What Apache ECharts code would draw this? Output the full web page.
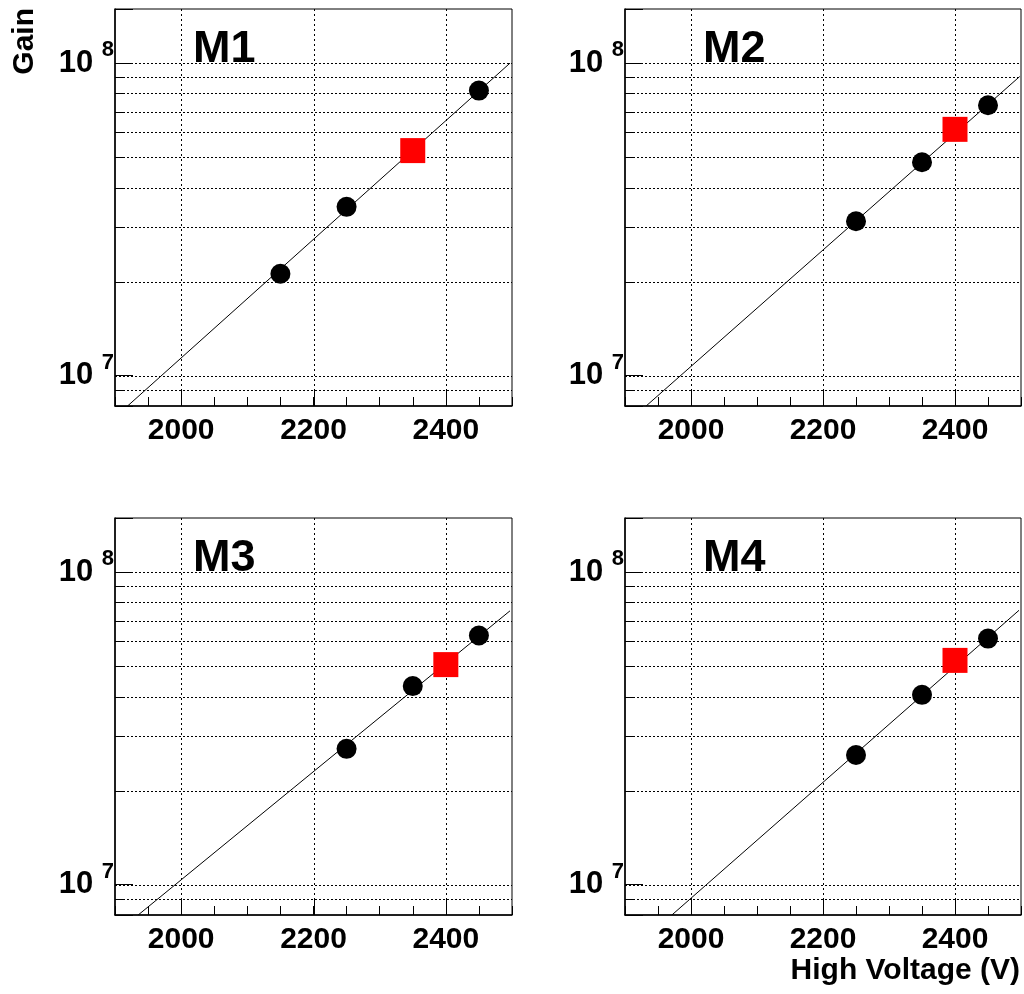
<!DOCTYPE html>
<html>
<head>
<meta charset="utf-8">
<script src="https://cdn.jsdelivr.net/npm/echarts@6/dist/echarts.min.js"></script>
<style>
  html, body { margin: 0; padding: 0; background: #ffffff; }
  #chart { width: 1024px; height: 994px; }
</style>
</head>
<body>
<div id="chart"></div>
<script>
// Module names, one per pad
const moduleNames = ['M1', 'M2', 'M3', 'M4'];

// Measured gain at each high-voltage setting (V, gain)
const m1Points = [[2150, 2.12e7], [2250, 3.47e7], [2450, 8.17e7]];
const m2Points = [[2250, 3.12e7], [2350, 4.82e7], [2450, 7.33e7]];
const m3Points = [[2250, 2.72e7], [2350, 4.32e7], [2450, 6.27e7]];
const m4Points = [[2250, 2.60e7], [2350, 4.05e7], [2450, 6.13e7]];

// Chosen operating point for each module
const m1Operating = [[2350, 5.25e7]];
const m2Operating = [[2400, 6.14e7]];
const m3Operating = [[2400, 5.06e7]];
const m4Operating = [[2400, 5.22e7]];

// Exponential fit, given by its two visible end points (V, gain)
const m1Fit = [[1919, 8.0e6], [2497, 1.0e8]];
const m2Fit = [[1932, 8.0e6], [2498, 9.06e7]];
const m3Fit = [[1935, 8.0e6], [2497, 7.52e7]];
const m4Fit = [[1971, 8.0e6], [2497, 7.55e7]];

// Axis ranges and grid values
const voltageRange = [1900, 2500];
const gainRange = [8.0e6, 1.49e8];
const voltageGridLines = [2000, 2200, 2400];
const gainGridLines = [9e6, 1e7, 2e7, 3e7, 4e7, 5e7, 6e7, 7e7, 8e7, 9e7, 1e8];
const gainMinorTicks = [9e6, 2e7, 3e7, 4e7, 5e7, 6e7, 7e7, 8e7, 9e7];

const allPoints = [m1Points, m2Points, m3Points, m4Points];
const allOperating = [m1Operating, m2Operating, m3Operating, m4Operating];
const allFits = [m1Fit, m2Fit, m3Fit, m4Fit];

// Pad layout (pixels)
const FONT = "'Liberation Sans', Arial, Helvetica, sans-serif";
const PAD_W = 397, PAD_H = 397;
const pads = [
  { left: 115, top: 9 },
  { left: 625, top: 9 },
  { left: 115, top: 518 },
  { left: 625, top: 518 }
];

const DOT = '#000000';
const crisp = v => Math.round(v) + 0.5;

function isDecade(v) {
  const l = Math.log10(v);
  return Math.abs(l - Math.round(l)) < 1e-6;
}

const grids = [], xAxes = [], yAxes = [], series = [], graphics = [];

pads.forEach((p, i) => {
  grids.push({
    left: p.left, top: p.top, width: PAD_W, height: PAD_H,
    show: true, borderColor: '#000', borderWidth: 1, backgroundColor: 'transparent'
  });

  xAxes.push({
    gridIndex: i, type: 'value',
    min: voltageRange[0], max: voltageRange[1], interval: 50,
    axisLine: { show: true, onZero: false, lineStyle: { color: '#000', width: 1.5 } },
    axisTick: { show: true, inside: true, length: 9, lineStyle: { color: '#000', width: 1 } },
    splitLine: { show: false },
    axisLabel: {
      margin: 10, color: '#000', fontFamily: FONT, fontWeight: 'bold', fontSize: 30,
      formatter: v => (v % 200 === 0 ? String(v) : '')
    }
  });

  yAxes.push({
    gridIndex: i, type: 'log', logBase: 10,
    min: gainRange[0], max: gainRange[1],
    axisLine: { show: true, lineStyle: { color: '#000', width: 1.5 } },
    axisTick: { show: true, inside: true, length: 18, lineStyle: { color: '#000', width: 1 } },
    splitLine: { show: false },
    axisLabel: {
      margin: 1, color: '#000',
      formatter: v => {
        if (!isDecade(v)) return '';
        return '{b|10 }{s|' + Math.round(Math.log10(v)) + '}';
      },
      rich: {
        b: { fontFamily: FONT, fontWeight: 'bold', fontSize: 31, lineHeight: 31, color: '#000' },
        s: { fontFamily: FONT, fontWeight: 'bold', fontSize: 22, lineHeight: 22, color: '#000', padding: [0, 0, 26, 0] }
      }
    }
  });

  // Horizontal dotted grid lines plus short minor ticks on the gain axis
  series.push({
    type: 'custom', xAxisIndex: i, yAxisIndex: i, z: 1, silent: true,
    data: gainGridLines.map(g => [voltageRange[0], g]),
    encode: { x: 0, y: 1 },
    renderItem: (params, api) => {
      const cs = params.coordSys;
      const g = api.value(1);
      const y = crisp(api.coord([voltageRange[0], g])[1]);
      const children = [{
        type: 'line',
        shape: { x1: cs.x, y1: y, x2: cs.x + cs.width, y2: y },
        style: { stroke: DOT, lineWidth: 1, lineDash: [2, 2] }
      }];
      if (gainMinorTicks.indexOf(g) >= 0) {
        children.push({
          type: 'line',
          shape: { x1: cs.x, y1: y, x2: cs.x + 9, y2: y },
          style: { stroke: '#000', lineWidth: 1 }
        });
      }
      return { type: 'group', children };
    }
  });

  // Vertical dotted grid lines plus long ticks on the voltage axis
  series.push({
    type: 'custom', xAxisIndex: i, yAxisIndex: i, z: 1, silent: true,
    data: voltageGridLines.map(v => [v, gainRange[0]]),
    encode: { x: 0, y: 1 },
    renderItem: (params, api) => {
      const cs = params.coordSys;
      const x = crisp(api.coord([api.value(0), gainRange[0]])[0]);
      const yb = cs.y + cs.height;
      return {
        type: 'group', children: [
          { type: 'line', shape: { x1: x, y1: cs.y, x2: x, y2: yb },
            style: { stroke: DOT, lineWidth: 1, lineDash: [2, 3] } },
          { type: 'line', shape: { x1: x, y1: yb - 16, x2: x, y2: yb },
            style: { stroke: '#000', lineWidth: 1 } }
        ]
      };
    }
  });

  // Fit line
  series.push({
    type: 'line', xAxisIndex: i, yAxisIndex: i, z: 3, silent: true,
    data: allFits[i], symbol: 'none', clip: true,
    lineStyle: { color: '#000', width: 1 }
  });

  // Measured points
  series.push({
    type: 'scatter', xAxisIndex: i, yAxisIndex: i, z: 4, silent: true,
    data: allPoints[i], symbol: 'circle', symbolSize: 20,
    itemStyle: { color: '#000', opacity: 1 }
  });

  // Operating point
  series.push({
    type: 'scatter', xAxisIndex: i, yAxisIndex: i, z: 5, silent: true,
    data: allOperating[i], symbol: 'rect', symbolSize: 25,
    itemStyle: { color: '#ff0000', opacity: 1 }
  });

  // Module name inside each pad
  graphics.push({
    type: 'text', x: p.left + 78, y: p.top + 41, z: 10, silent: true,
    style: { text: moduleNames[i], fontFamily: FONT, fontWeight: 'bold', fontSize: 45,
             fill: '#000', align: 'left', verticalAlign: 'middle' }
  });
});

// Axis titles
graphics.push({
  type: 'text', x: 25, y: 8, rotation: Math.PI / 2, z: 10, silent: true,
  style: { text: 'Gain', fontFamily: FONT, fontWeight: 'bold', fontSize: 30,
           fill: '#000', align: 'right', verticalAlign: 'middle' }
});
graphics.push({
  type: 'text', x: 1020, y: 971, z: 10, silent: true,
  style: { text: 'High Voltage (V)', fontFamily: FONT, fontWeight: 'bold', fontSize: 30,
           fill: '#000', align: 'right', verticalAlign: 'middle' }
});

const chart = echarts.init(document.getElementById('chart'), null, { renderer: 'canvas' });
chart.setOption({
  animation: false,
  backgroundColor: '#ffffff',
  grid: grids,
  xAxis: xAxes,
  yAxis: yAxes,
  series: series,
  graphic: graphics
});
</script>
</body>
</html>
